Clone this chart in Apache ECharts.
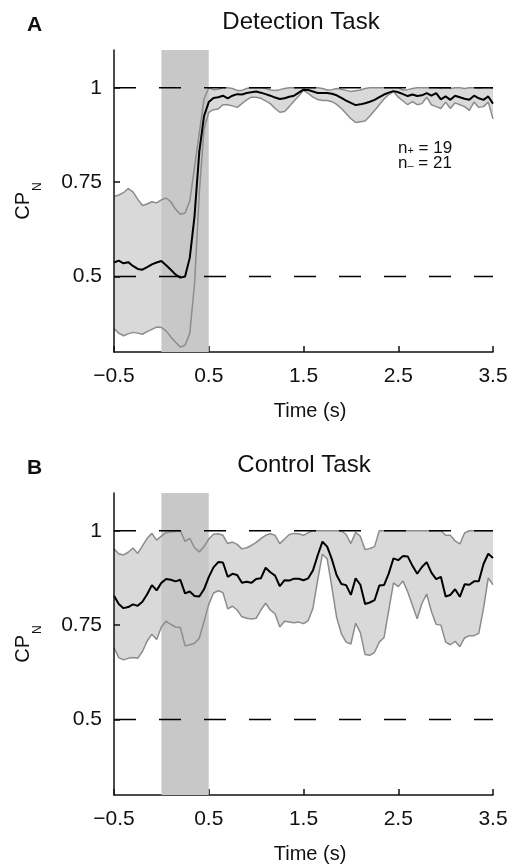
<!DOCTYPE html>
<html>
<head>
<meta charset="utf-8">
<title>CP_N over time</title>
<script src="https://cdn.jsdelivr.net/npm/echarts@6/dist/echarts.min.js"></script>
<style>
  html, body { margin: 0; padding: 0; background: #ffffff; }
  #chart { width: 513px; height: 865px; }
</style>
</head>
<body>
<div id="chart"></div>
<script>
// Time base (s) shared by every trace
const time = [
  -0.5, -0.45, -0.4, -0.35, -0.3, -0.25, -0.2, -0.15, -0.1, -0.05,
  0, 0.05, 0.1, 0.15, 0.2, 0.25, 0.3, 0.35, 0.4, 0.45,
  0.5, 0.55, 0.6, 0.65, 0.7, 0.75, 0.8, 0.85, 0.9, 0.95,
  1, 1.05, 1.1, 1.15, 1.2, 1.25, 1.3, 1.35, 1.4, 1.45,
  1.5, 1.55, 1.6, 1.65, 1.7, 1.75, 1.8, 1.85, 1.9, 1.95,
  2, 2.05, 2.1, 2.15, 2.2, 2.25, 2.3, 2.35, 2.4, 2.45,
  2.5, 2.55, 2.6, 2.65, 2.7, 2.75, 2.8, 2.85, 2.9, 2.95,
  3, 3.05, 3.1, 3.15, 3.2, 3.25, 3.3, 3.35, 3.4, 3.45,
  3.5
];

// Detection task: population CP_N mean and confidence bounds
const detectionMean = [
  0.537, 0.542, 0.535, 0.538, 0.528, 0.520, 0.518, 0.525, 0.532, 0.537,
  0.541, 0.530, 0.518, 0.505, 0.497, 0.500, 0.550, 0.660, 0.830, 0.925,
  0.962, 0.973, 0.975, 0.979, 0.972, 0.979, 0.983, 0.982, 0.986, 0.988,
  0.990, 0.987, 0.983, 0.979, 0.974, 0.970, 0.972, 0.976, 0.979, 0.987,
  0.995, 0.994, 0.990, 0.986, 0.986, 0.986, 0.984, 0.980, 0.973, 0.966,
  0.960, 0.954, 0.956, 0.959, 0.963, 0.968, 0.975, 0.982, 0.987, 0.991,
  0.988, 0.983, 0.978, 0.982, 0.978, 0.980, 0.986, 0.979, 0.986, 0.969,
  0.977, 0.968, 0.979, 0.975, 0.971, 0.968, 0.979, 0.972, 0.968, 0.977,
  0.958
];
const detectionUpper = [
  0.712, 0.716, 0.722, 0.733, 0.724, 0.705, 0.688, 0.692, 0.698, 0.695,
  0.703, 0.708, 0.698, 0.678, 0.665, 0.668, 0.700, 0.790, 0.880, 0.970,
  1.000, 0.995, 0.996, 1.000, 1.000, 0.998, 0.993, 0.993, 0.998, 1.000,
  1.000, 1.000, 0.998, 0.994, 0.993, 0.995, 0.998, 1.000, 1.000, 1.000,
  1.000, 1.000, 1.000, 1.000, 0.998, 0.994, 0.995, 0.998, 0.996, 0.993,
  0.990, 0.992, 0.994, 0.998, 1.000, 1.000, 1.000, 1.000, 1.000, 1.000,
  1.000, 0.994, 0.995, 0.998, 1.000, 1.000, 1.000, 1.000, 1.000, 0.998,
  1.000, 0.998, 1.000, 1.000, 0.998, 1.000, 1.000, 0.998, 1.000, 1.000,
  0.998
];
const detectionLower = [
  0.362, 0.350, 0.343, 0.348, 0.352, 0.350, 0.347, 0.354, 0.360, 0.366,
  0.365, 0.356, 0.340, 0.326, 0.313, 0.318, 0.350, 0.480, 0.720, 0.890,
  0.935, 0.942, 0.944, 0.955, 0.955, 0.952, 0.948, 0.958, 0.968, 0.975,
  0.975, 0.972, 0.965, 0.958, 0.945, 0.935, 0.937, 0.950, 0.965, 0.978,
  0.993, 0.985, 0.975, 0.969, 0.966, 0.966, 0.963, 0.956, 0.945, 0.932,
  0.918, 0.908, 0.910, 0.912, 0.925, 0.940, 0.955, 0.970, 0.982, 0.990,
  0.975, 0.965, 0.955, 0.963, 0.955, 0.958, 0.975, 0.955, 0.950, 0.945,
  0.962, 0.945, 0.960, 0.955, 0.950, 0.940, 0.962, 0.948, 0.950, 0.962,
  0.918
];

// Control task: population CP_N mean and confidence bounds
const controlMean = [
  0.828, 0.806, 0.795, 0.798, 0.805, 0.801, 0.812, 0.832, 0.856, 0.842,
  0.862, 0.872, 0.870, 0.866, 0.870, 0.834, 0.839, 0.827, 0.826, 0.845,
  0.877, 0.903, 0.917, 0.916, 0.878, 0.886, 0.883, 0.862, 0.865, 0.862,
  0.872, 0.874, 0.902, 0.890, 0.881, 0.853, 0.869, 0.868, 0.873, 0.873,
  0.869, 0.874, 0.895, 0.935, 0.971, 0.958, 0.924, 0.882, 0.859, 0.856,
  0.830, 0.874, 0.857, 0.806, 0.810, 0.816, 0.855, 0.856, 0.887, 0.927,
  0.922, 0.933, 0.932, 0.907, 0.886, 0.904, 0.917, 0.889, 0.872, 0.878,
  0.826, 0.830, 0.845, 0.825, 0.858, 0.857, 0.866, 0.866, 0.912, 0.939,
  0.928
];
const controlUpper = [
  0.952, 0.939, 0.936, 0.943, 0.954, 0.940, 0.960, 0.980, 0.993, 0.975,
  0.986, 0.995, 0.997, 0.998, 1.000, 0.972, 0.980, 0.955, 0.944, 0.958,
  0.978, 0.991, 0.992, 0.988, 0.966, 0.970, 0.964, 0.952, 0.955, 0.961,
  0.969, 0.979, 0.988, 0.992, 0.988, 0.966, 0.978, 0.990, 0.993, 0.992,
  0.988, 0.995, 1.000, 1.000, 1.000, 1.000, 1.000, 1.000, 1.000, 0.990,
  0.966, 0.996, 0.985, 0.950, 0.953, 0.958, 1.000, 1.000, 1.000, 1.000,
  1.000, 1.000, 1.000, 1.000, 1.000, 1.000, 1.000, 1.000, 1.000, 1.000,
  0.988, 0.988, 0.973, 0.965, 0.994, 1.000, 1.000, 1.000, 1.000, 1.000,
  1.000
];
const controlLower = [
  0.690, 0.664, 0.658, 0.662, 0.664, 0.662, 0.680, 0.708, 0.726, 0.712,
  0.745, 0.760, 0.752, 0.745, 0.744, 0.695, 0.698, 0.702, 0.715, 0.760,
  0.805, 0.835, 0.841, 0.836, 0.793, 0.800, 0.790, 0.772, 0.768, 0.766,
  0.768, 0.790, 0.808, 0.790, 0.780, 0.745, 0.760, 0.758, 0.756, 0.758,
  0.754, 0.762, 0.795, 0.870, 0.938, 0.925, 0.850, 0.770, 0.727, 0.705,
  0.700, 0.755, 0.730, 0.672, 0.670, 0.678, 0.705, 0.717, 0.790, 0.862,
  0.852, 0.867, 0.838, 0.802, 0.767, 0.808, 0.832, 0.786, 0.752, 0.750,
  0.705, 0.698, 0.707, 0.693, 0.716, 0.722, 0.722, 0.728, 0.795, 0.875,
  0.857
];

// Axes, reference levels and stimulus window
const xRange = [-0.5, 3.5];
const yRange = [0.3, 1.1];
const xTicks = [-0.5, 0.5, 1.5, 2.5, 3.5];
const yTicks = [0.5, 0.75, 1];
const refLevels = [0.5, 1];
const stimWindow = [0, 0.5];

// Panel texts
const panelLetters = ['A', 'B'];
const panelTitles = ['Detection Task', 'Control Task'];
const nPositive = 19;
const nNegative = 21;

const FONT = '"Liberation Sans", Arial, Helvetica, sans-serif';
const BAND_FILL = '#d9d9d9';
const STIM_FILL = '#c8c8c8';
const BOUND_LINE = '#8c8c8c';

const chart = echarts.init(document.getElementById('chart'), null, { renderer: 'canvas' });

const grids = [
  { left: 114, right: 20, top: 50, height: 302 },
  { left: 114, right: 20, top: 493, height: 302 }
];

function makeXAxis(gi) {
  return {
    type: 'value', gridIndex: gi, min: xRange[0], max: xRange[1],
    name: 'Time (s)', nameLocation: 'middle', nameGap: 49,
    nameTextStyle: { fontFamily: FONT, fontSize: 20, color: '#111', padding: [0, 0, 0, 13] },
    axisLine: { show: true, onZero: false, lineStyle: { color: '#111', width: 1.5 } },
    axisTick: { show: true, inside: true, length: 6, customValues: xTicks, lineStyle: { color: '#111', width: 1.5 } },
    axisLabel: {
      show: true, margin: 14, customValues: xTicks, fontFamily: FONT, fontSize: 21, color: '#111',
      formatter: v => (v < 0 ? '\u2212' : '') + Math.abs(v).toFixed(1)
    },
    splitLine: { show: false }
  };
}

function makeYAxis(gi) {
  return {
    type: 'value', gridIndex: gi, min: yRange[0], max: yRange[1], z: 10,
    name: '{m|CP}{s|N}', nameLocation: 'middle', nameRotate: 90, nameGap: 81,
    nameTextStyle: {
      color: '#111',
      rich: {
        m: { fontFamily: FONT, fontSize: 20, lineHeight: 20, verticalAlign: 'top', color: '#111' },
        s: { fontFamily: FONT, fontSize: 12, lineHeight: 12, verticalAlign: 'top', padding: [19, 0, 0, 1], color: '#111' }
      }
    },
    axisLine: { show: true, onZero: false, lineStyle: { color: '#111', width: 1.5 } },
    axisTick: { show: true, inside: true, length: 6, customValues: yTicks, lineStyle: { color: '#111', width: 1.5 } },
    axisLabel: {
      show: true, margin: 12, customValues: yTicks, fontFamily: FONT, fontSize: 21, color: '#111',
      formatter: v => String(v)
    },
    splitLine: { show: false }
  };
}

function pairs(values) {
  return time.map((t, i) => [t, values[i]]);
}

function panelSeries(gi, mean, upper, lower) {
  const list = [];
  // confidence band as one filled polygon
  list.push({
    type: 'custom', xAxisIndex: gi, yAxisIndex: gi, z: 1, silent: true,
    data: time.map((t, i) => [t, lower[i], upper[i]]),
    encode: { x: 0, y: [1, 2] },
    renderItem: function (params, api) {
      if (params.dataIndex !== 0) return null;
      const pts = [];
      for (let i = 0; i < time.length; i++) pts.push(api.coord([time[i], upper[i]]));
      for (let i = time.length - 1; i >= 0; i--) pts.push(api.coord([time[i], lower[i]]));
      return { type: 'polygon', shape: { points: pts }, style: { fill: BAND_FILL, stroke: null } };
    }
  });
  // stimulus window
  list.push({
    type: 'custom', xAxisIndex: gi, yAxisIndex: gi, z: 2, silent: true,
    data: [[stimWindow[0], stimWindow[1]]],
    encode: { x: [0, 1] },
    renderItem: function (params, api) {
      const p0 = api.coord([api.value(0), yRange[1]]);
      const p1 = api.coord([api.value(1), yRange[0]]);
      return { type: 'rect', shape: { x: p0[0], y: p0[1], width: p1[0] - p0[0], height: p1[1] - p0[1] }, style: { fill: STIM_FILL } };
    }
  });
  // band edges
  [upper, lower].forEach(arr => list.push({
    type: 'line', xAxisIndex: gi, yAxisIndex: gi, z: 3, silent: true,
    data: pairs(arr), showSymbol: false, symbol: 'none',
    lineStyle: { color: BOUND_LINE, width: 1.5 }
  }));
  // mean trace
  list.push({
    type: 'line', xAxisIndex: gi, yAxisIndex: gi, z: 4, silent: true,
    data: pairs(mean), showSymbol: false, symbol: 'none',
    lineStyle: { color: '#000', width: 2 }
  });
  // dashed reference levels
  refLevels.forEach(level => list.push({
    type: 'line', xAxisIndex: gi, yAxisIndex: gi, z: 5, silent: true,
    data: [[xRange[0], level], [xRange[1], level]], showSymbol: false, symbol: 'none',
    lineStyle: { color: '#000', width: 1.6, type: [22, 23] }
  }));
  return list;
}

const graphics = [
  { type: 'text', x: 27, y: 25, style: { text: panelLetters[0], font: 'bold 21px ' + FONT, fill: '#111', textAlign: 'left', textVerticalAlign: 'middle' } },
  { type: 'text', x: 301, y: 22, style: { text: panelTitles[0], font: '24px ' + FONT, fill: '#111', textAlign: 'center', textVerticalAlign: 'middle' } },
  { type: 'text', x: 27, y: 468, style: { text: panelLetters[1], font: 'bold 21px ' + FONT, fill: '#111', textAlign: 'left', textVerticalAlign: 'middle' } },
  { type: 'text', x: 304, y: 465, style: { text: panelTitles[1], font: '24px ' + FONT, fill: '#111', textAlign: 'center', textVerticalAlign: 'middle' } },
  {
    type: 'text', x: 398, y: 141,
    style: {
      text: '{n|n}{s|+}{t| = ' + nPositive + '}\n{n|n}{s|\u2013}{t| = ' + nNegative + '}',
      fill: '#111', textAlign: 'left', textVerticalAlign: 'top',
      rich: {
        n: { fontFamily: FONT, fontSize: 17, lineHeight: 15, fill: '#111' },
        s: { fontFamily: FONT, fontSize: 11, lineHeight: 15, fill: '#111', verticalAlign: 'bottom' },
        t: { fontFamily: FONT, fontSize: 17, lineHeight: 15, fill: '#111' }
      }
    }
  }
];

chart.setOption({
  animation: false,
  backgroundColor: '#ffffff',
  grid: grids,
  xAxis: [makeXAxis(0), makeXAxis(1)],
  yAxis: [makeYAxis(0), makeYAxis(1)],
  series: [
    ...panelSeries(0, detectionMean, detectionUpper, detectionLower),
    ...panelSeries(1, controlMean, controlUpper, controlLower)
  ],
  graphic: graphics
});
</script>
</body>
</html>
